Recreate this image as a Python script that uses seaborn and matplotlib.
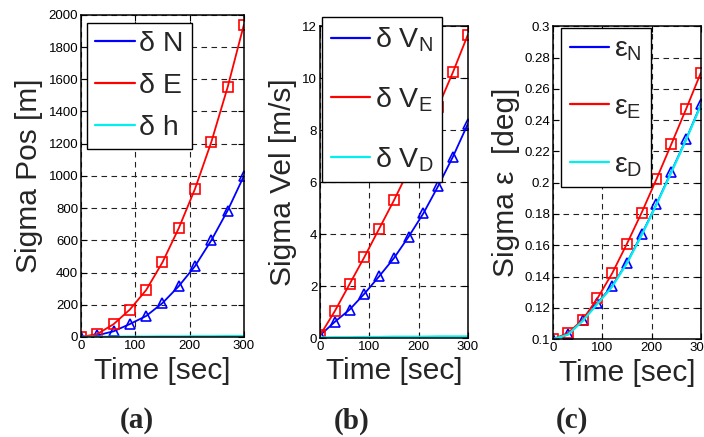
import numpy as np
import pandas as pd
import matplotlib
matplotlib.use("Agg")
import matplotlib.pyplot as plt
from matplotlib.lines import Line2D
from matplotlib.ticker import FuncFormatter
import seaborn as sns

# ── Data ──────────────────────────────────────────────────────
time_s = [0, 30, 60, 90, 120, 150, 180, 210, 240, 270, 300]

pos_n = [0, 10, 35, 80, 130, 210, 315, 440, 600, 785, 1000]
pos_e = [0, 18, 79, 170, 291, 463, 675, 920, 1211, 1551, 1940]
pos_h = [0, 1, 1, 2, 2, 3, 3, 4, 4, 5, 5]

vel_n = [0.1, 0.62, 1.09, 1.7, 2.37, 3.07, 3.9, 4.8, 5.85, 6.98, 8.23]
vel_e = [0.1, 1.03, 2.07, 3.11, 4.2, 5.29, 6.45, 7.65, 8.9, 10.23, 11.66]
vel_d = [0.02, 0.03, 0.03, 0.04, 0.04, 0.05, 0.05, 0.05, 0.06, 0.06, 0.06]

att_n = [0.1, 0.103, 0.1119, 0.123, 0.134, 0.1489, 0.167, 0.1864, 0.207, 0.2277, 0.250]
att_e = [0.1, 0.1038, 0.1123, 0.126, 0.142, 0.1609, 0.1809, 0.2023, 0.2245, 0.247, 0.2702]
att_d = [0.1, 0.1028, 0.1115, 0.1225, 0.1335, 0.1485, 0.1665, 0.186, 0.2065, 0.2273, 0.2495]

pos_labels = ["δ N", "δ E", "δ h"]
vel_labels = [r"δ V$_\mathregular{N}$", r"δ V$_\mathregular{E}$", r"δ V$_\mathregular{D}$"]
att_labels = [r"ε$_\mathregular{N}$", r"ε$_\mathregular{E}$", r"ε$_\mathregular{D}$"]

BLUE, RED, CYAN = "#0000ff", "#ff0000", "#00f0f0"

sns.set_style("ticks")
plt.rcParams["font.family"] = ["Liberation Sans", "DejaVu Sans"]
plt.rcParams["mathtext.default"] = "regular"


def draw_panel(ax, n, e, d, labels, ylabel, yticks, legend_anchor, ylab_x, spacing):
    df = pd.DataFrame({"t": time_s, "n": n, "e": e, "d": d})
    # blue with triangles, red with squares, cyan line on top
    sns.lineplot(data=df, x="t", y="n", color=BLUE, lw=1.3, marker="^",
                 markersize=7.5, markerfacecolor="none", markeredgecolor=BLUE,
                 markeredgewidth=1.2, ax=ax)
    sns.lineplot(data=df, x="t", y="e", color=RED, lw=1.3, marker="s",
                 markersize=7, markerfacecolor="none", markeredgecolor=RED,
                 markeredgewidth=1.2, ax=ax)
    sns.lineplot(data=df, x="t", y="d", color=CYAN, lw=1.6, ax=ax)

    ax.set_xlim(0, 300)
    ax.set_ylim(yticks[0], yticks[-1])
    ax.set_xticks([0, 100, 200, 300])
    ax.set_yticks(yticks)
    ax.yaxis.set_major_formatter(FuncFormatter(lambda v, _: f"{v:g}"))
    ax.grid(True, color="#222222", linestyle=(0, (5, 4)), linewidth=0.8)
    ax.tick_params(direction="in", length=4, width=0.8, top=True, right=True,
                   labelsize=9.5, pad=2, colors="black")
    for sp in ax.spines.values():
        sp.set_linewidth(1.1)
        sp.set_color("black")

    ax.set_xlabel("Time [sec]", fontsize=21.5)
    ax.set_ylabel(ylabel, fontsize=21.5)
    ax.xaxis.set_label_coords(0.5, -0.062)
    ax.yaxis.set_label_coords(ylab_x, 0.5)

    handles = [Line2D([], [], color=c, lw=1.6) for c in (BLUE, RED, CYAN)]
    leg = ax.legend(handles, labels, loc="upper left", bbox_to_anchor=legend_anchor,
                    borderaxespad=0, fontsize=20.5, frameon=True, fancybox=False,
                    handlelength=1.4, handletextpad=0.15, labelspacing=spacing,
                    borderpad=0.3)
    leg.get_frame().set_edgecolor("black")
    leg.get_frame().set_linewidth(1.0)
    leg.get_frame().set_alpha(1)


fig = plt.figure(figsize=(7.04, 4.37), dpi=100)
ax_a = fig.add_axes([0.115, 0.229, 0.2315, 0.737])
ax_b = fig.add_axes([0.4545, 0.2265, 0.210, 0.714])
ax_c = fig.add_axes([0.7855, 0.224, 0.210, 0.716])

draw_panel(ax_a, pos_n, pos_e, pos_h, pos_labels, "Sigma Pos [m]",
           np.arange(0, 2001, 200), (0.035, 0.975), -0.233, 0.55)
draw_panel(ax_b, vel_n, vel_e, vel_d, vel_labels, "Sigma Vel [m/s]",
           np.arange(0, 12.1, 2), (0.014, 1.029), -0.155, 1.1)
draw_panel(ax_c, att_n, att_e, att_d, att_labels, "Sigma ε  [deg]",
           np.round(np.arange(0.1, 0.3001, 0.02), 2), (0.054, 0.994), -0.223, 1.1)

for x, lab in [(137, "(a)"), (352, "(b)"), (572, "(c)")]:
    fig.text(x / 704, 1 - 421 / 437, lab, ha="center", va="center",
             fontsize=21, fontweight="bold", family="Liberation Serif")

fig.savefig("out.png", dpi=100)
